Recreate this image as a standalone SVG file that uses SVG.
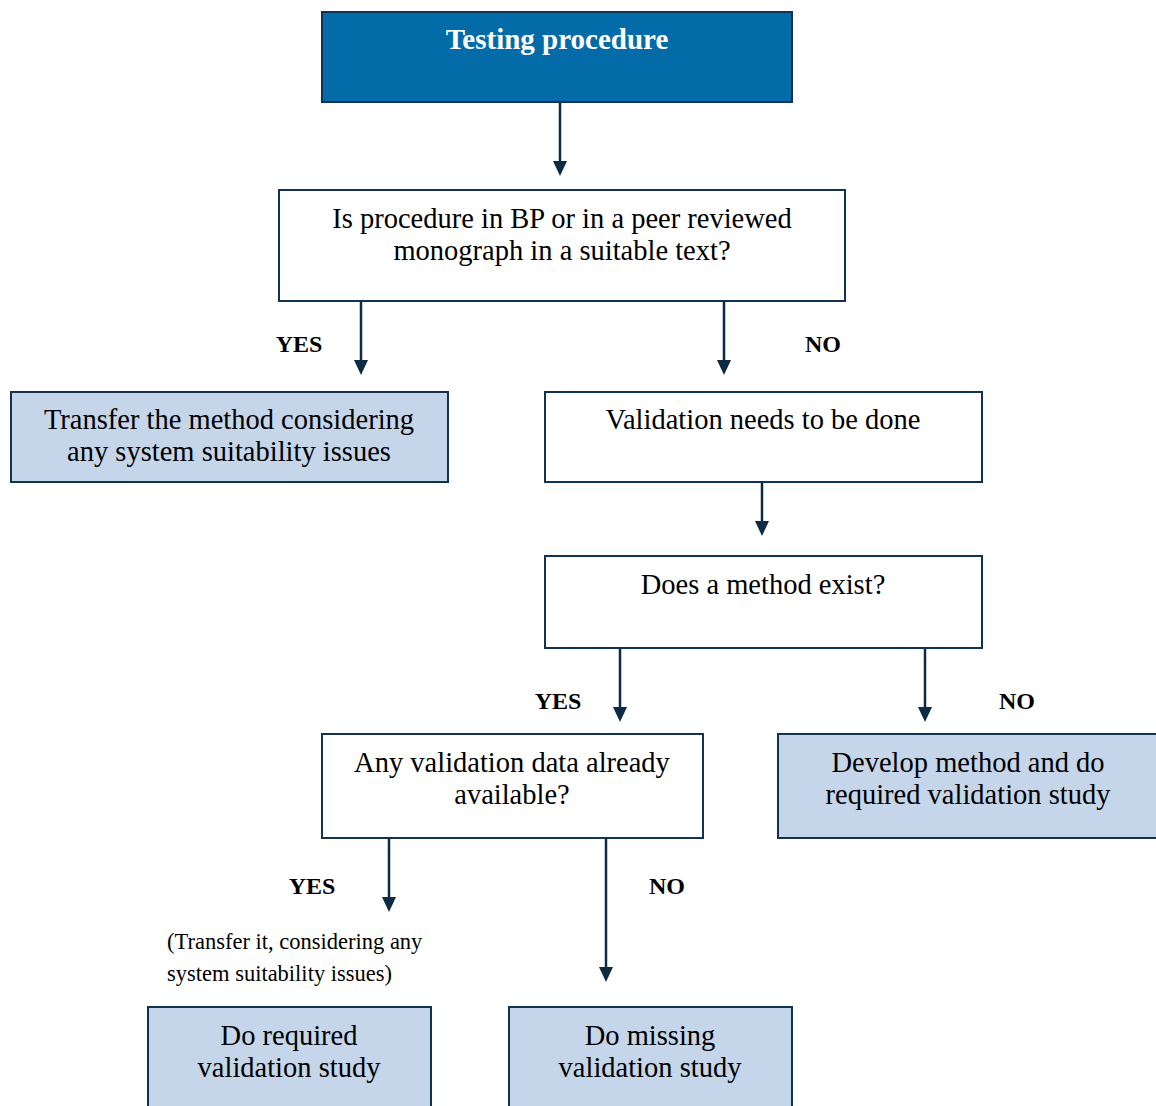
<svg xmlns="http://www.w3.org/2000/svg" width="1156" height="1106" viewBox="0 0 1156 1106">
<defs>
<style>
.box{stroke:#0f3350;stroke-width:2}
.w{fill:#ffffff}
.b{fill:#c5d5ea}
.t{font-family:"Liberation Serif","DejaVu Serif",serif;font-size:28.5px;fill:#000;text-anchor:middle}
.lbl{font-family:"Liberation Serif","DejaVu Serif",serif;font-size:24px;font-weight:bold;fill:#000;text-anchor:middle}
.note{font-family:"Liberation Serif","DejaVu Serif",serif;font-size:22.5px;fill:#000}
.c{stroke:#0d2b45;stroke-width:2.5;fill:none}
.ah{fill:#0d2b45}
</style>
</defs>
<rect width="1156" height="1106" fill="#ffffff"/>
<g id="connectors">
<line class="c" x1="560" y1="102" x2="560" y2="162"/><polygon class="ah" points="553,161 567,161 560,176"/>
<line class="c" x1="361" y1="301" x2="361" y2="361"/><polygon class="ah" points="354,360 368,360 361,375"/>
<line class="c" x1="724" y1="301" x2="724" y2="361"/><polygon class="ah" points="717,360 731,360 724,375"/>
<line class="c" x1="762" y1="482" x2="762" y2="522"/><polygon class="ah" points="755,521 769,521 762,536"/>
<line class="c" x1="620" y1="648" x2="620" y2="708"/><polygon class="ah" points="613,707 627,707 620,722"/>
<line class="c" x1="925" y1="648" x2="925" y2="708"/><polygon class="ah" points="918,707 932,707 925,722"/>
<line class="c" x1="389" y1="838" x2="389" y2="898"/><polygon class="ah" points="382,897 396,897 389,912"/>
<line class="c" x1="606" y1="838" x2="606" y2="968"/><polygon class="ah" points="599,967 613,967 606,982"/>
<text class="lbl" x="299" y="352">YES</text>
<text class="lbl" x="823" y="352">NO</text>
<text class="lbl" x="558" y="709">YES</text>
<text class="lbl" x="1017" y="709">NO</text>
<text class="lbl" x="312" y="894">YES</text>
<text class="lbl" x="667" y="894">NO</text>
<text class="note" x="167" y="949">(Transfer it, considering any</text>
<text class="note" x="167" y="981">system suitability issues)</text>
</g>
<g id="start">
<rect x="322" y="12" width="470" height="90" fill="#036ba8" class="box"/>
<text class="t" x="557" y="49" style="fill:#ffffff;font-weight:bold;font-size:29px">Testing procedure</text>
</g>
<g id="q1">
<rect x="279" y="190" width="566" height="111" class="box w"/>
<text class="t" x="562" y="228">Is procedure in BP or in a peer reviewed</text>
<text class="t" x="562" y="260">monograph in a suitable text?</text>
</g>
<g id="transfer">
<rect x="11" y="392" width="437" height="90" class="box b"/>
<text class="t" x="229" y="429">Transfer the method considering</text>
<text class="t" x="229" y="461">any system suitability issues</text>
</g>
<g id="validation">
<rect x="545" y="392" width="437" height="90" class="box w"/>
<text class="t" x="763" y="429">Validation needs to be done</text>
</g>
<g id="exists">
<rect x="545" y="556" width="437" height="92" class="box w"/>
<text class="t" x="763" y="594">Does a method exist?</text>
</g>
<g id="anydata">
<rect x="322" y="734" width="381" height="104" class="box w"/>
<text class="t" x="512" y="772">Any validation data already</text>
<text class="t" x="512" y="804">available?</text>
</g>
<g id="develop">
<rect x="778" y="734" width="384" height="104" class="box b"/>
<text class="t" x="968" y="772">Develop method and do</text>
<text class="t" x="968" y="804">required validation study</text>
</g>
<g id="required">
<rect x="148" y="1007" width="283" height="104" class="box b"/>
<text class="t" x="289" y="1045">Do required</text>
<text class="t" x="289" y="1077">validation study</text>
</g>
<g id="missing">
<rect x="509" y="1007" width="283" height="104" class="box b"/>
<text class="t" x="650" y="1045">Do missing</text>
<text class="t" x="650" y="1077">validation study</text>
</g>
</svg>
